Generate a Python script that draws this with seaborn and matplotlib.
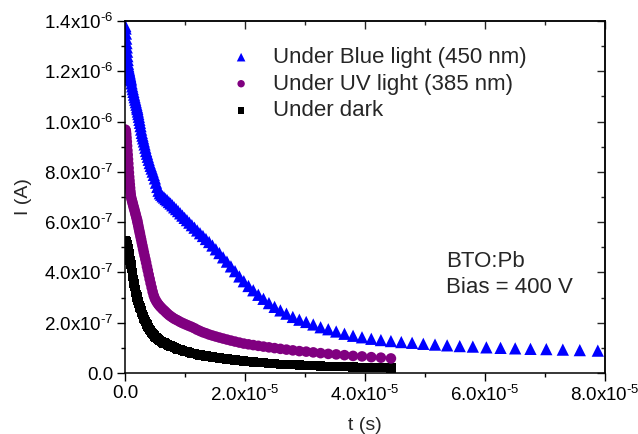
import matplotlib
matplotlib.use("Agg")
import matplotlib.pyplot as plt
import seaborn as sns
import pandas as pd
from matplotlib.ticker import MultipleLocator

# ---------------- data (t in microseconds, current in 1e-7 A) ----------------
t_us = [0.05, 0.1, 0.15, 0.2, 0.25, 0.3, 0.35, 0.4, 0.45, 0.5,
        0.55, 0.6, 0.65, 0.7, 0.75, 0.8, 0.85, 0.9, 0.95, 1.0,
        1.1, 1.2, 1.3, 1.4, 1.5, 1.6, 1.7, 1.8, 1.9, 2.0,
        2.06, 2.14, 2.22, 2.31, 2.40, 2.49, 2.59, 2.69, 2.80, 2.91,
        3.02, 3.14, 3.26, 3.39, 3.52, 3.66, 3.80, 3.95, 4.11, 4.27,
        4.44, 4.61, 4.79, 4.98, 5.17, 5.38, 5.59, 5.80, 6.03, 6.27,
        6.51, 6.77, 7.03, 7.31, 7.59, 7.89, 8.20, 8.52, 8.85, 9.20,
        9.56, 9.93, 10.32, 10.72, 11.14, 11.58, 12.03, 12.50, 12.99, 13.49,
        14.02, 14.57, 15.14, 15.73, 16.35, 16.99, 17.65, 18.34, 19.06, 19.80,
        20.58, 21.38, 22.22, 23.08, 23.99, 24.93, 25.90, 26.91, 27.97, 29.06,
        30.20, 31.38, 32.60, 33.88, 35.20, 36.58, 38.01, 39.50, 41.05, 42.65,
        44.32, 46.05, 47.85, 49.72, 51.67, 53.69, 55.79, 57.97, 60.23, 62.59,
        65.03, 67.58, 70.22, 72.97, 75.80, 78.80]

blue_I = [13.80, 13.70, 13.50, 13.30, 13.12, 12.95, 12.78, 12.60, 12.45, 12.30,
          12.20, 12.12, 12.06, 12.00, 11.94, 11.88, 11.82, 11.76, 11.70, 11.64,
          11.52, 11.40, 11.29, 11.18, 11.07, 10.97, 10.87, 10.77, 10.67, 10.57,
          10.50, 10.40, 10.30, 10.19, 10.07, 9.95, 9.82, 9.68, 9.55, 9.44,
          9.33, 9.21, 9.09, 8.96, 8.83, 8.72, 8.60, 8.48, 8.35, 8.24,
          8.13, 8.01, 7.88, 7.74, 7.57, 7.40, 7.25, 7.15, 7.09, 7.03,
          6.98, 6.92, 6.87, 6.80, 6.74, 6.67, 6.59, 6.52, 6.44, 6.35,
          6.26, 6.17, 6.08, 5.98, 5.88, 5.78, 5.67, 5.56, 5.45, 5.33,
          5.21, 5.07, 4.92, 4.77, 4.60, 4.43, 4.24, 4.05, 3.84, 3.65,
          3.46, 3.29, 3.11, 2.95, 2.78, 2.63, 2.49, 2.36, 2.23, 2.12,
          2.03, 1.93, 1.82, 1.74, 1.65, 1.56, 1.48, 1.42, 1.36, 1.31,
          1.27, 1.23, 1.20, 1.16, 1.13, 1.10, 1.07, 1.05, 1.02, 1.00,
          0.98, 0.96, 0.95, 0.93, 0.91, 0.89]

uv_I = [9.68, 9.65, 9.60, 9.50, 9.36, 9.20, 9.03, 8.85, 8.68, 8.50,
        8.33, 8.15, 7.97, 7.80, 7.65, 7.50, 7.36, 7.22, 7.10, 7.00,
        6.91, 6.82, 6.73, 6.64, 6.55, 6.46, 6.37, 6.28, 6.19, 6.10,
        6.03, 5.94, 5.85, 5.74, 5.64, 5.54, 5.42, 5.31, 5.18, 5.06,
        4.93, 4.80, 4.67, 4.53, 4.39, 4.23, 4.08, 3.91, 3.74, 3.57,
        3.40, 3.23, 3.08, 2.96, 2.87, 2.79, 2.72, 2.66, 2.60, 2.54,
        2.49, 2.43, 2.37, 2.31, 2.26, 2.21, 2.16, 2.12, 2.08, 2.03,
        1.99, 1.95, 1.91, 1.87, 1.83, 1.78, 1.72, 1.67, 1.62, 1.58,
        1.53, 1.49, 1.45, 1.41, 1.37, 1.33, 1.29, 1.25, 1.21, 1.17,
        1.14, 1.11, 1.08, 1.05, 1.02, 0.99, 0.96, 0.93, 0.90, 0.87,
        0.85, 0.82, 0.79, 0.76, 0.74, 0.71, 0.68, 0.66, 0.63, 0.61,
        0.58]

dark_I = [5.27, 5.25, 5.24, 5.22, 5.19, 5.15, 5.10, 5.05, 4.99, 4.93,
          4.87, 4.80, 4.73, 4.67, 4.61, 4.55, 4.48, 4.42, 4.36, 4.30,
          4.15, 4.00, 3.85, 3.70, 3.57, 3.45, 3.33, 3.22, 3.11, 3.02,
          2.97, 2.90, 2.83, 2.76, 2.69, 2.62, 2.55, 2.48, 2.40, 2.33,
          2.26, 2.19, 2.12, 2.05, 1.98, 1.92, 1.86, 1.80, 1.74, 1.68,
          1.62, 1.57, 1.52, 1.47, 1.42, 1.37, 1.33, 1.29, 1.25, 1.22,
          1.19, 1.16, 1.13, 1.10, 1.07, 1.04, 1.01, 0.98, 0.95, 0.92,
          0.89, 0.86, 0.84, 0.81, 0.79, 0.77, 0.75, 0.72, 0.70, 0.68,
          0.66, 0.64, 0.62, 0.60, 0.58, 0.56, 0.54, 0.52, 0.50, 0.48,
          0.46, 0.44, 0.42, 0.41, 0.39, 0.37, 0.35, 0.34, 0.33, 0.32,
          0.31, 0.30, 0.28, 0.27, 0.26, 0.25, 0.24, 0.23, 0.22, 0.21,
          0.20]

series_names = ["Under Blue light (450 nm)", "Under UV light (385 nm)", "Under dark"]

x_tick_vals = [0, 2e-5, 4e-5, 6e-5, 8e-5]
x_tick_labels = ["0.0", r"$\mathregular{2.0x10^{\text{-}5}}$", r"$\mathregular{4.0x10^{\text{-}5}}$",
                 r"$\mathregular{6.0x10^{\text{-}5}}$", r"$\mathregular{8.0x10^{\text{-}5}}$"]
y_tick_vals = [0, 2e-7, 4e-7, 6e-7, 8e-7, 1.0e-6, 1.2e-6, 1.4e-6]
y_tick_labels = ["0.0", r"$\mathregular{2.0x10^{\text{-}7}}$", r"$\mathregular{4.0x10^{\text{-}7}}$",
                 r"$\mathregular{6.0x10^{\text{-}7}}$", r"$\mathregular{8.0x10^{\text{-}7}}$",
                 r"$\mathregular{1.0x10^{\text{-}6}}$", r"$\mathregular{1.2x10^{\text{-}6}}$",
                 r"$\mathregular{1.4x10^{\text{-}6}}$"]

# ---------------- styling ----------------
sns.set_style("ticks")
plt.rcParams["font.family"] = ["Liberation Sans", "DejaVu Sans"]
plt.rcParams["mathtext.fontset"] = "custom"
plt.rcParams["mathtext.rm"] = "Liberation Sans"
plt.rcParams["mathtext.it"] = "Liberation Sans:italic"
plt.rcParams["mathtext.bf"] = "Liberation Sans:bold"

frames = []
for name, vals in zip(series_names, [blue_I, uv_I, dark_I]):
    n = len(vals)
    frames.append(pd.DataFrame({"t": [v * 1e-6 for v in t_us[:n]],
                                "I": [v * 1e-7 for v in vals],
                                "series": name}))
df = pd.concat(frames, ignore_index=True)

colors = {series_names[0]: "#0000ff", series_names[1]: "#800080", series_names[2]: "#000000"}
markers = {series_names[0]: "^", series_names[1]: "o", series_names[2]: "s"}
sizes = {series_names[0]: 78, series_names[1]: 58, series_names[2]: 44}

fig = plt.figure(figsize=(6.38, 4.34), dpi=100)
ax = fig.add_axes([125 / 638, 61 / 434, 480 / 638, 352 / 434])

for name in [series_names[2], series_names[1], series_names[0]]:
    sub = df[df["series"] == name]
    sns.scatterplot(data=sub, x="t", y="I", ax=ax, color=colors[name],
                    marker=markers[name], s=sizes[name], linewidth=0,
                    edgecolor="none", label=name, legend=True)

ax.set_xlim(0, 8e-5)
ax.set_ylim(0, 1.4e-6)
ax.set_xticks(x_tick_vals)
ax.set_xticklabels(x_tick_labels)
ax.set_yticks(y_tick_vals)
ax.set_yticklabels(y_tick_labels)
ax.xaxis.set_minor_locator(MultipleLocator(1e-5))
ax.yaxis.set_minor_locator(MultipleLocator(1e-7))
ax.tick_params(which="major", direction="out", length=6, width=1.0,
               labelsize=13.5, pad=2.5, color="black", labelcolor="black")
ax.tick_params(which="minor", direction="out", length=3.2, width=1.0, color="black")
for sp in ax.spines.values():
    sp.set_visible(True)
    sp.set_linewidth(1.1)
    sp.set_color("black")

# mirrored inward ticks on top and right
secx = ax.secondary_xaxis("top")
secx.set_xticks(x_tick_vals)
secx.xaxis.set_minor_locator(MultipleLocator(1e-5))
secx.tick_params(which="major", direction="in", length=5.5, width=1.0, labeltop=False)
secx.tick_params(which="minor", direction="in", length=3.2, width=1.0)
secx.spines["top"].set_linewidth(1.1)
secy = ax.secondary_yaxis("right")
secy.set_yticks(y_tick_vals)
secy.yaxis.set_minor_locator(MultipleLocator(1e-7))
secy.tick_params(which="major", direction="in", length=5.5, width=1.0, labelright=False)
secy.tick_params(which="minor", direction="in", length=3.2, width=1.0)
secy.spines["right"].set_linewidth(1.1)

ax.set_xlabel("t (s)", fontsize=14)
ax.set_ylabel("I (A)", fontsize=14)
ax.xaxis.set_label_coords(0.5, -0.125)
ax.yaxis.set_label_coords(-0.194, 0.5)

handles, labels = ax.get_legend_handles_labels()
order = [labels.index(n) for n in series_names]
leg = ax.legend([handles[i] for i in order], [labels[i] for i in order],
                loc="upper left", bbox_to_anchor=(230 / 638, 1 - 47 / 434),
                bbox_transform=fig.transFigure, frameon=False, fontsize=16,
                handlelength=1.0, handletextpad=0.95, borderpad=0,
                borderaxespad=0, labelspacing=0.25, markerscale=0.7)

fig.text(446 / 638, 1 - 267.3 / 434, "BTO:Pb", fontsize=16, ha="left", va="baseline")
fig.text(446 / 638, 1 - 293.3 / 434, "Bias = 400 V", fontsize=16, ha="left", va="baseline")

fig.savefig("out.png", dpi=100)
